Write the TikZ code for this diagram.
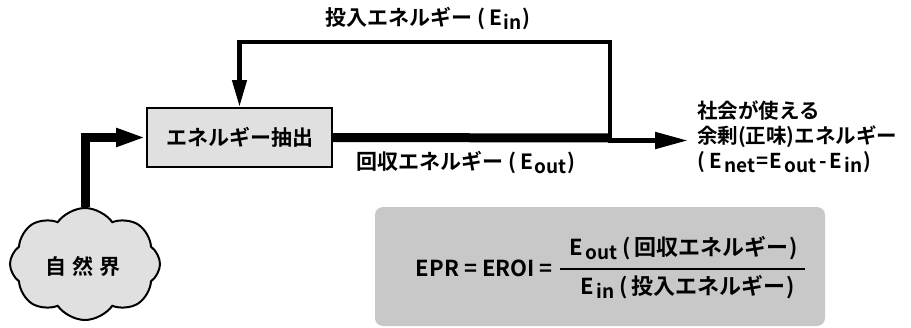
\documentclass[tikz,border=0pt]{standalone}
\usepackage{fontspec}
\setmainfont{Noto Sans CJK JP}[BoldFont={Noto Sans CJK JP Bold}]
\usetikzlibrary{arrows.meta,shapes.symbols}
\definecolor{boxgray}{RGB}{224,224,224}
\definecolor{fgray}{RGB}{200,200,200}
\newcommand{\sbs}[1]{\raisebox{-4pt}{\fontsize{19}{19}\selectfont #1}}
\newcommand{\lp}{\hspace{5pt}(\hspace{4pt}}
\newcommand{\rp}{\hspace{1pt})}
\begin{document}
\begin{tikzpicture}[x=1pt,y=-1pt,
  every node/.style={font=\fontsize{21}{25}\selectfont\bfseries, inner sep=0pt},
  procbox/.style={draw, line width=2pt, fill=boxgray, minimum width=185pt, minimum height=59pt},
  cloudnode/.style={cloud, cloud puffs=8, cloud puff arc=110, draw, line width=2pt, fill=boxgray, minimum width=150pt, minimum height=112pt, aspect=1.3},
  fatline/.style={line width=9pt},
  midline/.style={line width=5pt},
  fbline/.style={line width=4.5pt},
  fbox/.style={fill=fgray, rounded corners=8pt, minimum width=450pt, minimum height=119pt},
  ftext/.style={font=\fontsize{22}{26}\selectfont\bfseries}
]
\useasboundingbox (0,0) rectangle (911,327);
\node[procbox] (ext) at (239.5,137.5) {エネルギー抽出};
\node[cloudnode] (nat) at (85,264) {};
\node (natl) at (83,266) {自\hspace{6pt}然\hspace{6pt}界};
\coordinate (j) at (610,138);
\coordinate (jt) at (610,42);
\coordinate (j2) at (608,140.5);
\coordinate (out) at (688,140.5);
% inflow
\draw[fatline, -{Triangle[length=30pt,width=17pt]}] (nat.north) |- (ext.west);
% outflow
\draw[fatline] (ext.east) -- (j);
\draw[midline, -{Triangle[length=33pt,width=16pt]}] (j2) -- (out);
% feedback
\draw[fbline, -{Triangle[length=27pt,width=14pt]}] ([yshift=-2pt]j) -- (jt) -| (ext.north);
% labels
\node (ein) at (428,18) {投入エネルギー\lp E\hspace{2pt}\sbs{in}\rp};
\node (eout) at (466,163) {回収エネルギー\lp E\hspace{2pt}\sbs{out}\rp};
\node[anchor=west, align=left, font=\fontsize{20.5}{25}\selectfont\bfseries] (net) at (697,137)
  {社会が使える\\余剰(正味)エネルギー\\(\hspace{5pt}E\hspace{2pt}\sbs{net}\hspace{1pt}=\hspace{1pt}E\hspace{2pt}\sbs{out}\hspace{3pt}-\hspace{3pt}E\hspace{2pt}\sbs{in}\rp};
% formula
\node[fbox] (fb) at (600,266.5) {};
\node[anchor=east, ftext] (epr) at (553,268) {EPR = EROI =};
\coordinate (barl) at (560,269);
\coordinate (barr) at (805,269);
\draw[line width=2pt] (barl) -- (barr);
\node[ftext] (num) at (684,248) {E\hspace{2pt}\sbs{out}\lp 回収エネルギー\rp};
\node[ftext] (den) at (688,287) {E\hspace{2pt}\sbs{in}\lp 投入エネルギー\rp};
\end{tikzpicture}
\end{document}
